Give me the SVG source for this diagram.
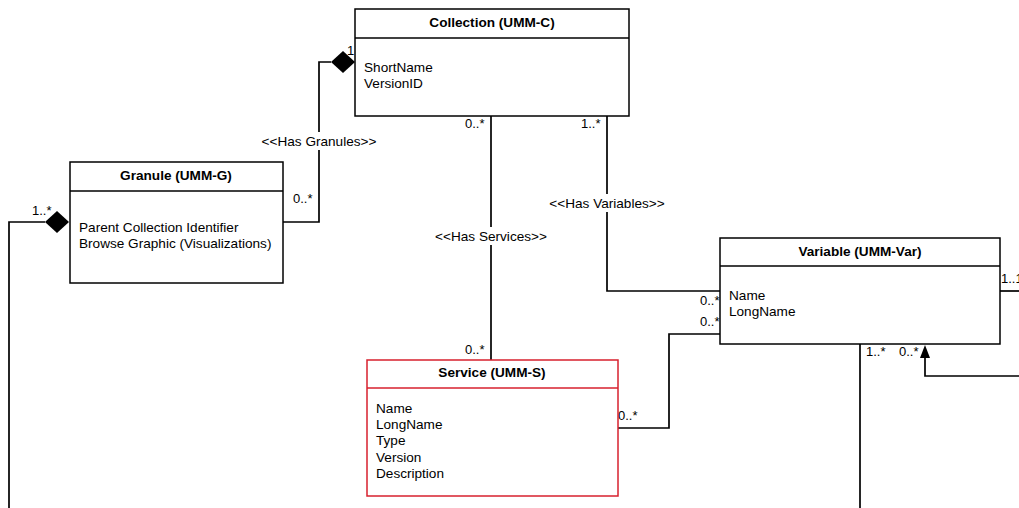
<svg xmlns="http://www.w3.org/2000/svg" width="1019" height="508" viewBox="0 0 1019 508">
<style>
.box{fill:#fff;stroke:#000;stroke-width:1.5}
.red{stroke:#d7202e}
.t{font-family:"Liberation Sans",Arial,sans-serif;font-size:13.6px;fill:#000}
.b{font-weight:bold;text-anchor:middle}
.m{font-family:"Liberation Sans",Arial,sans-serif;font-size:13px;fill:#000}
.c{fill:none;stroke:#000;stroke-width:1.7}
.lbl{text-anchor:middle}
</style>
<rect width="1019" height="508" fill="#fff"/>
<g id="connectors">
<polyline class="c" points="283,222 319,222 319,62 331,62"/>
<polygon points="331,62 343,51 355,62 343,73" fill="#000"/>
<polyline class="c" points="45,222 9,222 9,508"/>
<polygon points="45,222 57,211 69,222 57,233" fill="#000"/>
<line class="c" x1="491" y1="116" x2="491" y2="360"/>
<polyline class="c" points="607,116 607,291 720,291"/>
<polyline class="c" points="720,334 669,334 669,428 618,428"/>
<line class="c" x1="1000" y1="291" x2="1019" y2="291"/>
<line class="c" x1="860" y1="344" x2="860" y2="508"/>
<polyline class="c" points="1019,376 925,376 925,356"/>
<polygon points="925,345 920,358 930,358" fill="#000"/>
<rect x="258" y="132" width="122" height="18" fill="#fff"/>
<text class="t lbl" x="319" y="146">&lt;&lt;Has Granules&gt;&gt;</text>
<rect x="436" y="227" width="110" height="18" fill="#fff"/>
<text class="t lbl" x="491" y="241">&lt;&lt;Has Services&gt;&gt;</text>
<rect x="546" y="194" width="122" height="18" fill="#fff"/>
<text class="t lbl" x="607" y="208">&lt;&lt;Has Variables&gt;&gt;</text>
<text class="m" x="347" y="55">1</text>
<text class="m" x="293" y="203">0..*</text>
<text class="m" x="32" y="215">1..*</text>
<text class="m" x="465" y="128">0..*</text>
<text class="m" x="581" y="128">1..*</text>
<text class="m" x="465" y="354">0..*</text>
<text class="m" x="700" y="305">0..*</text>
<text class="m" x="700" y="326">0..*</text>
<text class="m" x="618" y="420">0..*</text>
<text class="m" x="1001" y="283">1..1</text>
<text class="m" x="866" y="356">1..*</text>
<text class="m" x="899" y="356">0..*</text>
</g>
<g id="collection">
<rect class="box" x="355" y="9" width="274" height="107"/>
<line class="box" x1="355" y1="38" x2="629" y2="38"/>
<text class="t b" x="492" y="27">Collection (UMM-C)</text>
<text class="t" x="364" y="72">ShortName</text>
<text class="t" x="364" y="88">VersionID</text>
</g>
<g id="granule">
<rect class="box" x="70" y="162" width="213" height="121"/>
<line class="box" x1="70" y1="191" x2="283" y2="191"/>
<text class="t b" x="176" y="180">Granule (UMM-G)</text>
<text class="t" x="79" y="232">Parent Collection Identifier</text>
<text class="t" x="79" y="248">Browse Graphic (Visualizations)</text>
</g>
<g id="variable">
<rect class="box" x="720" y="238" width="280" height="106"/>
<line class="box" x1="720" y1="266" x2="1000" y2="266"/>
<text class="t b" x="860" y="256">Variable (UMM-Var)</text>
<text class="t" x="729" y="300">Name</text>
<text class="t" x="729" y="316">LongName</text>
</g>
<g id="service">
<rect class="box red" x="367" y="360" width="251" height="136"/>
<line class="box red" x1="367" y1="388" x2="618" y2="388"/>
<text class="t b" x="492" y="377">Service (UMM-S)</text>
<text class="t" x="376" y="413">Name</text>
<text class="t" x="376" y="429">LongName</text>
<text class="t" x="376" y="445">Type</text>
<text class="t" x="376" y="462">Version</text>
<text class="t" x="376" y="478">Description</text>
</g>
</svg>
